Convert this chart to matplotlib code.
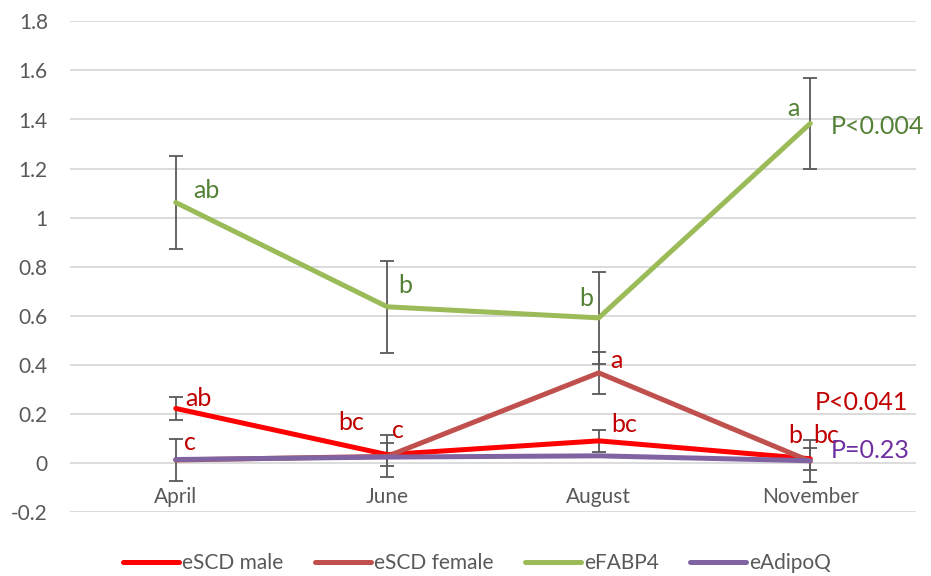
import matplotlib
matplotlib.use("Agg")
import matplotlib.pyplot as plt
from matplotlib.lines import Line2D

months = ["April", "June", "August", "November"]
escd_male = [0.223, 0.035, 0.091, 0.018]
escd_male_err = [0.047, 0.048, 0.046, 0.045]
escd_female = [0.013, 0.028, 0.368, 0.008]
escd_female_err = [0.085, 0.085, 0.086, 0.086]
efabp4 = [1.062, 0.637, 0.592, 1.384]
efabp4_err = [0.188, 0.188, 0.186, 0.187]
eadipoq = [0.015, 0.025, 0.030, 0.010]

yticks = [-0.2, 0, 0.2, 0.4, 0.6, 0.8, 1.0, 1.2, 1.4, 1.6, 1.8]
ytick_labels = ["-0.2", "0", "0.2", "0.4", "0.6", "0.8", "1", "1.2", "1.4", "1.6", "1.8"]

# (text, x, y, ha)
green_labels = [("ab", 0.145, 1.111, "center"), ("b", 1.087, 0.724, "center"),
                ("b", 1.942, 0.669, "center"), ("a", 2.919, 1.445, "center"),
                ("P<0.004", 3.099, 1.370, "left")]
red_labels = [("ab", 0.105, 0.265, "center"), ("c", 0.066, 0.084, "center"),
              ("bc", 0.831, 0.166, "center"), ("c", 1.051, 0.132, "center"),
              ("a", 2.084, 0.418, "center"), ("bc", 2.118, 0.159, "center"),
              ("P<0.041", 3.241, 0.247, "center"), ("b", 2.927, 0.111, "center"),
              ("bc", 3.077, 0.111, "center")]
purple_labels = [("P=0.23", 3.099, 0.050, "left")]

plt.rcParams['font.family'] = ['Lato', 'DejaVu Sans']

fig = plt.figure(figsize=(9.31, 5.76), dpi=100)
ax = fig.add_axes([70/931, 1-512.3/576, (916-70)/931, (512.3-21.3)/576])

x = list(range(len(months)))
c_male = "#FF0000"
c_female = "#C0504D"
c_fabp = "#9BBB59"
c_adipo = "#8064A2"
ecol = "#595959"
lw = 3.6

ax.errorbar(x, efabp4, yerr=efabp4_err, fmt='none', ecolor=ecol, elinewidth=1.3, capsize=5, capthick=1.3, zorder=2)
ax.errorbar(x, escd_female, yerr=escd_female_err, fmt='none', ecolor=ecol, elinewidth=1.3, capsize=5, capthick=1.3, zorder=2)
ax.errorbar(x, escd_male, yerr=escd_male_err, fmt='none', ecolor=ecol, elinewidth=1.3, capsize=5, capthick=1.3, zorder=2)

ax.plot(x, escd_male, color=c_male, lw=lw, solid_capstyle='round', zorder=3)
ax.plot(x, escd_female, color=c_female, lw=lw, solid_capstyle='round', zorder=3)
ax.plot(x, efabp4, color=c_fabp, lw=lw, solid_capstyle='round', zorder=3)
ax.plot(x, eadipoq, color=c_adipo, lw=lw, solid_capstyle='round', zorder=4)

ax.set_xlim(-0.5, 3.5)
ax.set_ylim(-0.2, 1.8)
ax.set_yticks(yticks)
ax.set_yticklabels(ytick_labels)
ax.grid(axis='y', color="#D9D9D9", lw=1.3)
ax.set_axisbelow(True)
for s in ax.spines.values():
    s.set_visible(False)
ax.spines['bottom'].set_position(('data', 0))
ax.set_xticks(x)
ax.set_xticklabels(months)
ax.tick_params(axis='both', length=0, labelsize=15, labelcolor="#595959")
ax.tick_params(axis='y', pad=16)
ax.tick_params(axis='x', pad=17)

for t, xx, yy, ha in green_labels:
    ax.text(xx, yy, t, color="#538135", fontsize=18, ha=ha, va='center', zorder=5)
for t, xx, yy, ha in red_labels:
    ax.text(xx, yy, t, color="#C00000", fontsize=18, ha=ha, va='center', zorder=5)
for t, xx, yy, ha in purple_labels:
    ax.text(xx, yy, t, color="#7030A0", fontsize=18, ha=ha, va='center', zorder=5)

handles = [Line2D([0], [0], color=c, lw=lw, solid_capstyle='round') for c in (c_male, c_female, c_fabp, c_adipo)]
leg = fig.legend(handles, ["eSCD male", "eSCD female", "eFABP4", "eAdipoQ"], loc='center',
                 bbox_to_anchor=(477/931, 1-563/576), ncol=4, frameon=False, fontsize=15,
                 handlelength=2.7, handletextpad=0.15, columnspacing=1.5, borderaxespad=0)
for t in leg.get_texts():
    t.set_color("#595959")

fig.savefig("out.png", dpi=100)
